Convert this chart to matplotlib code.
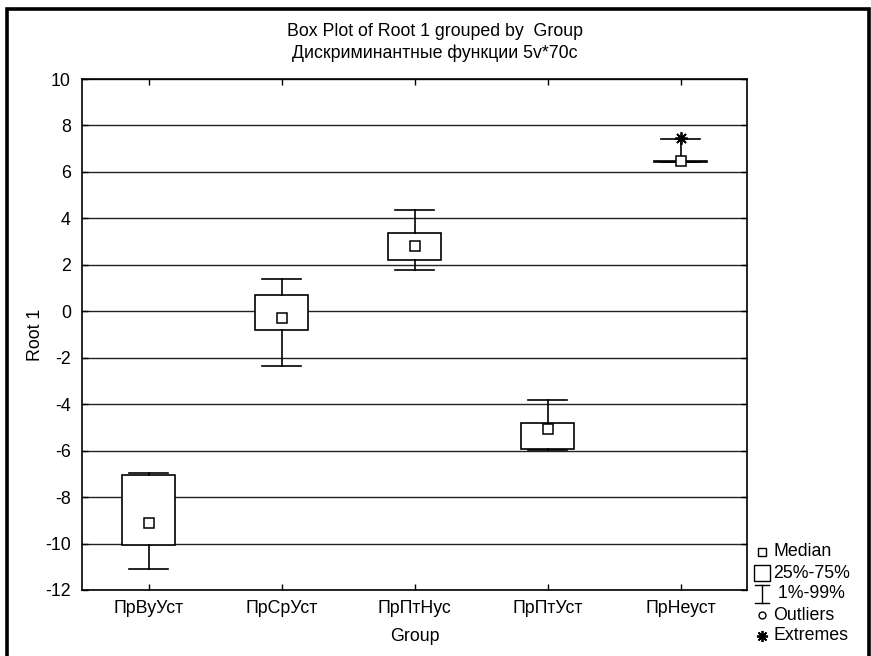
import matplotlib.pyplot as plt
from matplotlib.lines import Line2D
from matplotlib.patches import Rectangle

plt.rcParams['font.family'] = ['Liberation Sans', 'DejaVu Sans']

# --- data ---
groups = ["ПрВуУст", "ПрСрУст", "ПрПтНус", "ПрПтУст", "ПрНеуст"]
medians = [-9.12, -0.30, 2.80, -5.05, 6.45]
q25 = [-10.08, -0.80, 2.22, -5.92, 6.42]
q75 = [-7.05, 0.70, 3.38, -4.80, 6.48]
p01 = [-11.10, -2.35, 1.78, -5.98, 6.42]
p99 = [-6.98, 1.38, 4.35, -3.82, 7.42]
extremes = [[], [], [], [], [7.45]]
yticks = list(range(-12, 11, 2))

FS = 12.8
W, H = 871, 656
fig = plt.figure(figsize=(W / 100, H / 100), dpi=100)
ax = fig.add_axes([82 / W, 1 - 590 / H, 665 / W, 511 / H])

stats = []
for i in range(len(groups)):
    stats.append(dict(med=medians[i], q1=q25[i], q3=q75[i],
                      whislo=p01[i], whishi=p99[i], fliers=extremes[i]))

pos = list(range(1, len(groups) + 1))
ax.bxp(stats, positions=pos, widths=0.4, patch_artist=True,
       boxprops=dict(facecolor='white', edgecolor='black', linewidth=1.2),
       whiskerprops=dict(color='black', linewidth=1.2),
       capprops=dict(color='black', linewidth=1.2),
       capwidths=0.3,
       medianprops=dict(visible=False),
       flierprops=dict(marker=(8, 2, 0), markersize=9, markeredgecolor='black',
                       markeredgewidth=1.3, linestyle='none'),
       zorder=3)
ax.plot(pos, medians, 's', ms=7, mfc='white', mec='black', mew=1.1,
        linestyle='none', zorder=5)

ax.set_xlim(0.5, len(groups) + 0.5)
ax.set_ylim(-12, 10)
ax.set_yticks(yticks)
ax.set_yticklabels([str(t) for t in yticks], fontsize=FS)
ax.set_xticks(pos)
ax.set_xticklabels(groups, fontsize=FS)
ax.tick_params(direction='in', top=True, right=True, length=4, width=1)
ax.tick_params(axis='x', pad=7)
ax.tick_params(axis='y', pad=8)
ax.yaxis.grid(True, color='#222222', linewidth=1.0, zorder=0)
ax.set_axisbelow(True)
for s in ax.spines.values():
    s.set_linewidth(1.2)

ax.set_ylabel("Root 1", fontsize=FS, labelpad=1)
ax.set_xlabel("Group", fontsize=FS, labelpad=8)
fig.text(435 / W, 1 - 32 / H, "Box Plot of Root 1 grouped by  Group",
         ha='center', va='center', fontsize=FS)
fig.text(435 / W, 1 - 53 / H, "Дискриминантные функции 5v*70с",
         ha='center', va='center', fontsize=FS)

# outer frame
fig.add_artist(Rectangle((6.5 / W, -0.05), 862 / W, 1.05 - 9 / H,
                         transform=fig.transFigure, fill=False,
                         edgecolor='black', linewidth=2.6))

# manual legend
def fx(x):
    return x / W

def fy(y):
    return 1 - y / H

lx = 762
fig.add_artist(Line2D([fx(lx)], [fy(552)], marker='s', ms=6, mfc='white',
                      mec='black', mew=1, transform=fig.transFigure))
fig.add_artist(Line2D([fx(lx)], [fy(573)], marker='s', ms=12, mfc='white',
                      mec='black', mew=1, transform=fig.transFigure))
fig.add_artist(Line2D([fx(lx), fx(lx)], [fy(585), fy(603)], color='black',
                      lw=1, transform=fig.transFigure))
fig.add_artist(Line2D([fx(lx - 7), fx(lx + 7)], [fy(585), fy(585)], color='black',
                      lw=1, transform=fig.transFigure))
fig.add_artist(Line2D([fx(lx - 7), fx(lx + 7)], [fy(603), fy(603)], color='black',
                      lw=1, transform=fig.transFigure))
fig.add_artist(Line2D([fx(lx)], [fy(615)], marker='o', ms=5, mfc='white',
                      mec='black', mew=1, transform=fig.transFigure))
fig.add_artist(Line2D([fx(lx)], [fy(636)], marker=(8, 2, 0), ms=8,
                      mec='black', mew=1.3, transform=fig.transFigure))
legend_texts = ["Median", "25%-75%", " 1%-99%", "Outliers", "Extremes"]
legend_y = [552, 573, 594, 615, 636]
for t, y in zip(legend_texts, legend_y):
    fig.text(fx(773), fy(y), t, ha='left', va='center', fontsize=FS)

fig.savefig("out.png", dpi=100)
